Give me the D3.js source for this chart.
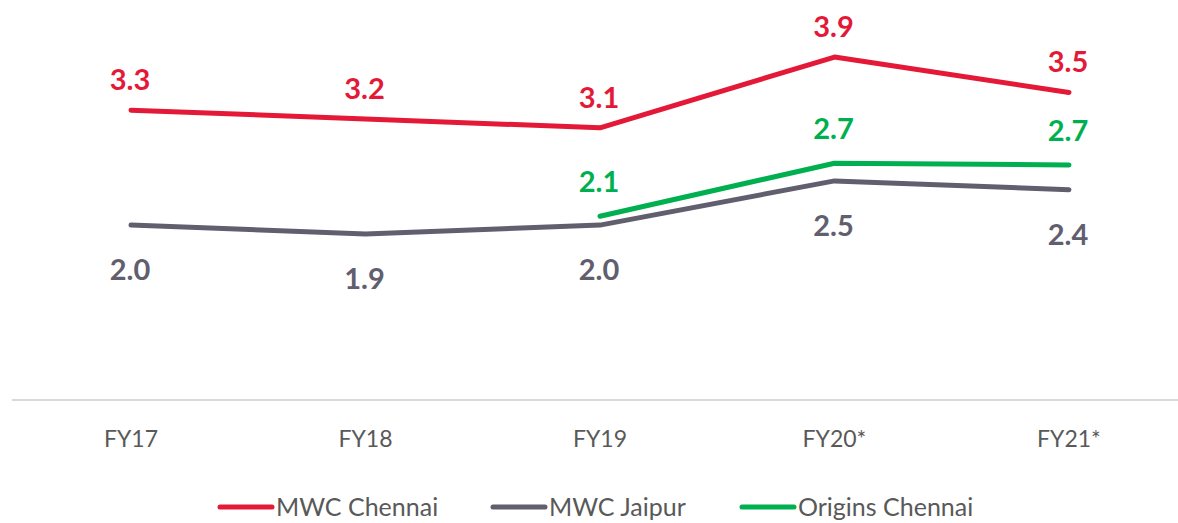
<!DOCTYPE html>
<html>
<head>
<meta charset="utf-8">
<script src="https://cdn.jsdelivr.net/npm/d3@7"></script>
<style>
  body { margin: 0; background: #fff; }
  svg { display: block; font-family: Lato, "Open Sans", sans-serif; }
</style>
</head>
<body>
<div id="chart"></div>
<script>
// data
const years = ["FY17", "FY18", "FY19", "FY20*", "FY21*"];
const mwcChennai = [3.3, 3.2, 3.1, 3.9, 3.5];
const mwcJaipur = [2.0, 1.9, 2.0, 2.5, 2.4];
const originsChennai = [null, null, 2.1, 2.7, 2.68];
const originsLabels = [null, null, "2.1", "2.7", "2.7"];

const width = 1178, height = 523;
const svg = d3.select('#chart').append('svg')
    .attr("width", width)
    .attr("height", height);

const x = d3.scalePoint()
    .domain(years)
    .range([131, 1069]);
const y = d3.scaleLinear()
    .domain([0, 4.5])
    .range([402, 4]);

// axis line
svg.append("line")
    .attr("x1", 12).attr("x2", 1178)
    .attr("y1", 400).attr("y2", 400)
    .attr("stroke", "#d9d9d9")
    .attr("stroke-width", 2);

// category labels
svg.append("g").selectAll("text").data(years).join("text")
    .attr("x", d => x(d))
    .attr("y", 447)
    .attr("text-anchor", "middle")
    .attr("font-size", 23)
    .attr("fill", "#595959")
    .text(d => d);

const series = [
    {name: "MWC Chennai", values: mwcChennai, labels: mwcChennai.map(v => v.toFixed(1)), color: "#e31937", dy: -20},
    {name: "MWC Jaipur", values: mwcJaipur, labels: mwcJaipur.map(v => v.toFixed(1)), color: "#615e6e", dy: 55},
    {name: "Origins Chennai", values: originsChennai, labels: originsLabels, color: "#00b050", dy: -24}
];

const line = d3.line()
    .defined(d => d != null)
    .x((d, i) => x(years[i]))
    .y(d => y(d));

// draw lines, gray first so green sits on top
const order = [series[1], series[0], series[2]];
order.forEach(s => {
    svg.append("path")
        .datum(s.values)
        .attr("d", line)
        .attr("fill", "none")
        .attr("stroke", s.color)
        .attr("stroke-width", 5)
        .attr("stroke-linecap", "round")
        .attr("stroke-linejoin", "round");
});

// value labels
series.forEach(s => {
    svg.append("g").selectAll("text")
        .data(s.values.map((v, i) => ({v: v, i: i, t: s.labels[i]})).filter(d => d.v != null))
        .join("text")
        .attr("x", d => x(years[d.i]) - 1)
        .attr("y", d => y(d.v) + s.dy)
        .attr("text-anchor", "middle")
        .attr("font-size", 29)
        .attr("font-weight", "bold")
        .attr("fill", s.color)
        .text(d => d.t);
});

// legend
const legend = svg.append("g").attr("transform", "translate(0,507)");
const legendX = [218, 491, 740];
series.forEach((s, i) => {
    legend.append("line")
        .attr("x1", legendX[i] + 2).attr("x2", legendX[i] + 54)
        .attr("y1", 0).attr("y2", 0)
        .attr("stroke", s.color)
        .attr("stroke-width", 5)
        .attr("stroke-linecap", "round");
    legend.append("text")
        .attr("x", legendX[i] + 58)
        .attr("y", 9)
        .attr("font-size", 25)
        .attr("fill", "#595959")
        .text(s.name);
});
</script>
</body>
</html>
